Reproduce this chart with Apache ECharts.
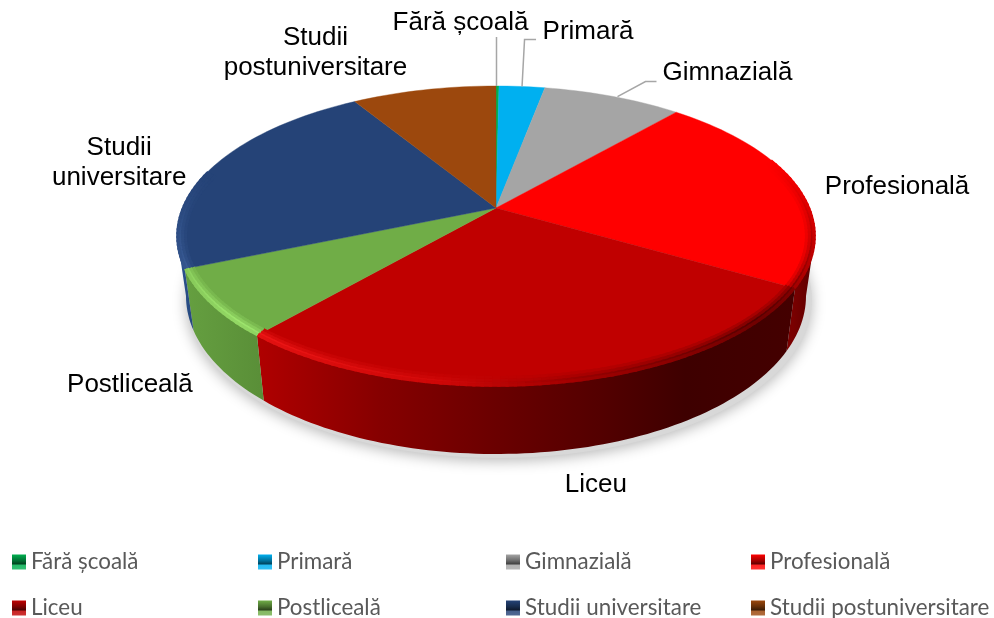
<!DOCTYPE html>
<html><head><meta charset="utf-8">
<style>html,body{margin:0;padding:0;background:#fff}#c{width:994px;height:618px}</style>
<script src="https://cdn.jsdelivr.net/npm/echarts@6/dist/echarts.min.js"></script>
</head><body><div id="c"></div>
<script>
var categories = ['Fără școală','Primară','Gimnazială','Profesională','Liceu','Postliceală','Studii universitare','Studii postuniversitare'];
var values = [0.15,2.3,7.1,21.1,32.8,8.0,21.2,7.3];
var labelTexts = ['Fără școală','Primară','Gimnazială','Profesională','Liceu','Postliceală','Studii\nuniversitare','Studii\npostuniversitare'];
var colors = ['#00B050','#00B0F0','#A5A5A5','#FF0000','#C00000','#70AD47','#254377','#9C480D'];

// presentation only
var rim = {cx:496, cy:236, rx:319, ry:150};
var base = {cx:496, cy:296, rx:310, ry:158};
var apex = {x:496, y:208};
var labelNudge = [[-37,-63],[66,-55],[114,-24],[97,-4],[41.5,101],[-82,81],[-89,-9],[-108,-37]];
var leaders = {0:[[-1,0],[-1,-49]],1:[[0,0],[2.5,-47],[14,-47]],2:[[4,0],[32,-15],[43,-15]]};
var sideStops = {
  3:[[0,'#7a0000'],[1,'#5a0000']],
  4:[[0,'#b00000'],[0.23,'#860000'],[0.45,'#6a0000'],[0.65,'#520000'],[0.8,'#3e0000'],[1,'#440000']],
  5:[[0,'#659f40'],[1,'#5a8f38']],
  6:[[0,'#2c5697'],[1,'#274a80']]
};
var sideX = {3:[793,815],4:[256,793],5:[186,260],6:[177,190]};

var total = values.reduce(function(a,b){return a+b;},0);
var rad = function(d){return d*Math.PI/180;};
function pt(e,t,d){d=d||0;return [e.cx+(e.rx-d)*Math.sin(rad(t)), e.cy-(e.ry-d)*Math.cos(rad(t))];}
function hex(c){return [1,3,5].map(function(i){return parseInt(c.substr(i,2),16);});}
function toHex(a){return '#'+a.map(function(v){var s=Math.max(0,Math.min(255,Math.round(v))).toString(16);return s.length<2?'0'+s:s;}).join('');}
function mix(a,b,f){var x=hex(a),y=hex(b);return toHex(x.map(function(v,i){return v+(y[i]-v)*f;}));}
function brighten(c){return toHex(hex(c).map(function(v){return v*1.22+32;}));}
function bump(t,a,p,b){return t<=a||t>=b?0:t<p?(t-a)/(p-a):(b-t)/(b-p);}
function arcRange(i){
  var s=0;for(var k=0;k<i;k++)s+=values[k];
  return [s/total*360,(s+values[i])/total*360];
}
function sample(a,b,n){var r=[];for(var k=0;k<=n;k++)r.push(a+(b-a)*k/n);return r;}

function makeRender(i){
  return function(params,api){
    var r=arcRange(i),a=r[0],b=r[1],mid=(a+b)/2,children=[];
    var ts=sample(a,b,Math.max(2,Math.ceil((b-a)/1.5)));
    var sa=Math.max(a,90),sb=Math.min(b,270);
    if(sb>sa){
      var st=sample(sa,sb,Math.ceil((sb-sa)/1.5));
      var poly=st.map(function(t){return pt(rim,t);}).concat(st.slice().reverse().map(function(t){return pt(base,t);}));
      var xr=sideX[i]||[rim.cx-rim.rx,rim.cx+rim.rx];
      var ss=sideStops[i]||[[0,colors[i]],[1,colors[i]]];
      children.push({type:'polygon',z2:1,shape:{points:poly},style:{
        fill:{type:'linear',x:xr[0],y:0,x2:xr[1],y2:0,global:true,colorStops:ss.map(function(s){return {offset:s[0],color:s[1]};})},
        stroke:null}});
    }
    var top=[[apex.x,apex.y]].concat(ts.map(function(t){return pt(rim,t);}));
    children.push({type:'polygon',z2:5,shape:{points:top},style:{fill:colors[i],stroke:colors[i],lineWidth:0.4}});
    var light=brighten(colors[i]);
    var dark=(i===3||i===4)?'#3a0000':mix(colors[i],'#000000',0.7);
    var prof=[[8.5,0.2],[5.5,0.45],[2.5,0.8],[0.8,0.6]];
    prof.forEach(function(p,pi){
      for(var k=0;k<ts.length-1;k++){
        var tm=(ts[k]+ts[k+1])/2;
        var h=bump(tm,165,235,295), d=bump(tm,60,125,190);
        if(h+d<=0.001)continue;
        var c=mix(mix(colors[i],light,h*p[1]),dark,d*p[1]);
        children.push({type:'polyline',z2:6+pi,shape:{points:[pt(rim,ts[k],p[0]),pt(rim,ts[k+1],p[0]),pt(rim,Math.min(ts[k+1]+0.6,b),p[0])]},
          style:{fill:null,stroke:c,lineWidth:3.2,lineCap:'butt'}});
      }
    });
    var anchor=pt(rim,mid);
    if(leaders[i]){
      children.push({type:'polyline',z2:11,shape:{points:leaders[i].map(function(o){return [anchor[0]+o[0],anchor[1]+o[1]];})},
        style:{fill:null,stroke:'#A6A6A6',lineWidth:1.5}});
    }
    children.push({type:'text',z2:12,style:{text:labelTexts[i],x:anchor[0]+labelNudge[i][0],y:anchor[1]+labelNudge[i][1],
      align:'center',verticalAlign:'middle',fontFamily:'Liberation Sans',fontSize:26,lineHeight:30,fill:'#000'}});
    return {type:'group',children:children};
  };
}
function shadowRender(){
  var pts=sample(0,360,120).map(function(t){return pt({cx:base.cx+3,cy:base.cy+4,rx:base.rx+3,ry:base.ry},t);});
  return {type:'polygon',z2:0,shape:{points:pts},style:{fill:'#d8d8d8',shadowBlur:14,shadowColor:'rgba(0,0,0,0.28)',shadowOffsetY:3}};
}
var series=[{type:'custom',name:'umbra',coordinateSystem:'none',silent:true,z:1,data:[[1]],renderItem:shadowRender}];
categories.forEach(function(name,i){
  series.push({type:'custom',name:name,coordinateSystem:'none',z:2,data:[[values[i]]],renderItem:makeRender(i),
    itemStyle:{color:colors[i]}});
});
function swatch(c){
  return {color:{type:'linear',x:0,y:0,x2:0,y2:1,colorStops:[
    {offset:0,color:c},{offset:0.4,color:mix(c,'#000000',0.35)},{offset:0.62,color:mix(c,'#000000',0.6)},
    {offset:0.72,color:mix(c,'#ffffff',0.15)},{offset:1,color:mix(c,'#ffffff',0.2)}]}};
}
function legendCol(idx,left){
  return {orient:'vertical',left:left,top:549,width:240,height:120,padding:0,itemWidth:14,itemHeight:15,itemGap:20,selectedMode:false,icon:'rect',
    textStyle:{fontFamily:'Lato',fontSize:22.4,color:'#595959',lineHeight:26},
    data:idx.map(function(k){return {name:categories[k],itemStyle:swatch(colors[k])};})};
}
var chart=echarts.init(document.getElementById('c'),null,{renderer:'canvas'});
chart.setOption({animation:false,backgroundColor:'#fff',
  legend:[legendCol([0,4],12),legendCol([1,5],258),legendCol([2,6],506),legendCol([3,7],751)],
  series:series});
</script></body></html>
